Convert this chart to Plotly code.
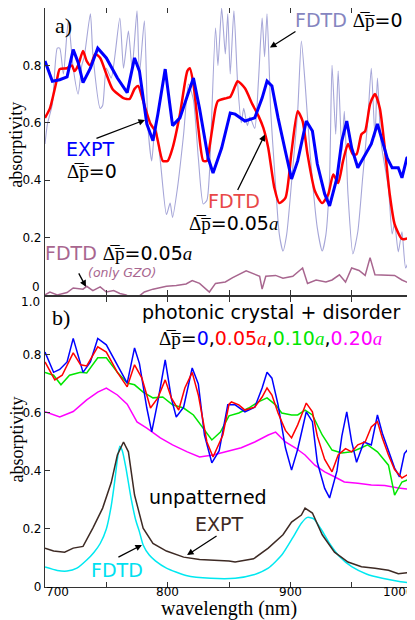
import plotly.graph_objects as go
from plotly.subplots import make_subplots

# ---- panel a ----
xa_expt = [700, 706, 712, 718, 723, 727, 731, 737, 743, 750, 759, 767, 773, 777, 783, 788, 792, 798, 804, 810,
           816, 821, 826, 833, 837, 844, 851, 855, 863, 871, 877, 881, 885, 890, 896, 901, 906, 913, 918, 922,
           928, 932, 938, 942, 946, 950, 955, 961, 966, 971, 975, 979, 983, 988, 991, 995, 1000]
ya_expt = [0.815, 0.745, 0.75, 0.76, 0.855, 0.81, 0.74, 0.79, 0.86, 0.826, 0.756, 0.705, 0.826, 0.78, 0.596, 0.537,
           0.63, 0.787, 0.59, 0.617, 0.693, 0.756, 0.65, 0.477, 0.425, 0.512, 0.634, 0.63, 0.606, 0.617, 0.686,
           0.745, 0.728, 0.617, 0.50, 0.404, 0.467, 0.606, 0.571, 0.456, 0.352, 0.31, 0.408, 0.537, 0.606, 0.512,
           0.443, 0.491, 0.526, 0.596, 0.537, 0.477, 0.443, 0.443, 0.408, 0.477, 0.49]

xa_fdtd05 = [700, 704, 710, 712, 718, 722, 724, 727, 731, 734, 737, 741, 745, 750, 755, 764, 769, 773, 776, 780,
             786, 790, 792, 796, 800, 804, 810, 816, 818, 821, 825, 829, 832, 834, 839, 841, 848, 851, 855, 857,
             863, 869, 874, 878, 882, 887, 891, 896, 901, 906, 910, 914, 920, 926, 931, 935, 939, 943, 947, 951,
             954, 958, 961, 965, 969, 973, 977, 981, 985, 991, 996, 1000]
ya_fdtd05 = [0.617, 0.65, 0.756, 0.787, 0.79, 0.80, 0.78, 0.80, 0.85, 0.815, 0.80, 0.84, 0.826, 0.77, 0.718, 0.686,
             0.683, 0.718, 0.728, 0.676, 0.596, 0.571, 0.537, 0.467, 0.467, 0.512, 0.63, 0.78, 0.79, 0.735, 0.582,
             0.467, 0.467, 0.512, 0.65, 0.676, 0.686, 0.69, 0.728, 0.745, 0.72, 0.665, 0.624, 0.582, 0.512, 0.373,
             0.32, 0.338, 0.50, 0.64, 0.606, 0.49, 0.362, 0.32, 0.352, 0.42, 0.39, 0.467, 0.526, 0.49, 0.49, 0.56,
             0.571, 0.665, 0.70, 0.65, 0.512, 0.352, 0.247, 0.195, 0.198, 0.223]

xa_fdtd0 = [700, 702, 706, 710, 712, 715, 719, 723, 727, 730, 732, 737, 739, 745, 747, 750, 754, 761, 764, 768,
            771, 775, 777, 781, 784, 787, 790, 794, 799, 802, 804, 808, 813, 817, 821, 825, 829, 832, 834, 839,
            841, 844, 847, 849, 851, 854, 857, 860, 862, 865, 867, 871, 874, 877, 879, 881, 884, 887, 891, 894,
            897, 902, 906, 909, 912, 916, 922, 926, 929, 932, 934, 937, 939, 942, 944, 947, 951, 955, 959, 963,
            966, 969, 971, 974, 980, 983, 985, 988, 991, 994, 997, 1000]
ya_fdtd0 = [0.526, 0.596, 0.665, 0.86, 0.86, 0.77, 0.955, 0.79, 0.70, 0.80, 0.83, 0.98, 0.84, 0.65, 0.66, 0.79,
            0.756, 0.965, 0.79, 0.92, 0.79, 0.99, 0.77, 0.955, 0.58, 0.467, 0.6, 0.467, 0.28, 0.32, 0.27, 0.373,
            0.56, 0.735, 0.68, 0.477, 0.317, 0.33, 0.42, 0.93, 0.8, 1.0, 0.84, 0.98, 0.77, 0.99, 0.74, 0.6, 0.65,
            0.59, 0.62, 0.58, 0.745, 0.965, 0.83, 0.98, 0.64, 0.443, 0.212, 0.153, 0.21, 0.443, 0.64, 0.885, 0.74,
            0.50, 0.233, 0.153, 0.21, 0.41, 0.80, 0.56, 0.78, 0.5, 0.64, 0.35, 0.143, 0.22, 0.41, 0.6, 0.79, 0.55,
            0.756, 0.53, 0.37, 0.212, 0.25, 0.15, 0.22, 0.094, 0.12, 0.094]

xa_gzo = [700, 704, 710, 718, 723, 731, 734, 739, 745, 750, 756, 761, 766, 770, 775, 781, 788, 799, 807, 815,
          820, 826, 834, 839, 847, 853, 864, 869, 875, 877, 880, 888, 894, 902, 910, 914, 921, 929, 934, 940,
          945, 950, 956, 961, 965, 969, 977, 985, 991, 998, 1000]
ya_gzo = [0.0, 0.01, 0.0, 0.008, 0.024, 0.02, 0.03, 0.015, 0.028, 0.01, 0.015, 0.005, 0.0, -0.01, -0.01, 0.01,
          0.02, 0.03, 0.033, 0.038, 0.05, 0.04, 0.01, 0.04, 0.045, 0.06, 0.084, 0.075, 0.065, 0.02, 0.065, 0.068,
          0.058, 0.065, 0.094, 0.04, 0.052, 0.045, 0.052, 0.07, 0.045, 0.094, 0.085, 0.068, 0.13, 0.07, 0.07,
          0.068, 0.052, 0.04, 0.035]

# ---- panel b ----
xb_0 = [700, 707, 712, 718, 723, 727, 731, 737, 743, 750, 759, 767, 773, 777, 783, 787, 792, 798, 803, 807, 813,
        820, 825, 830, 836, 842, 849, 855, 863, 871, 877, 881, 885, 890, 896, 901, 906, 913, 918, 922, 928, 932,
        938, 942, 946, 950, 954, 960, 966, 971, 975, 980, 985, 989, 993, 997, 1000]
yb_0 = [0.81, 0.74, 0.75, 0.776, 0.857, 0.80, 0.74, 0.776, 0.857, 0.835, 0.765, 0.703, 0.824, 0.77, 0.617, 0.535,
        0.64, 0.783, 0.65, 0.586, 0.62, 0.755, 0.70, 0.524, 0.428, 0.47, 0.628, 0.628, 0.604, 0.62, 0.686, 0.74,
        0.72, 0.628, 0.48, 0.403, 0.475, 0.604, 0.57, 0.43, 0.34, 0.307, 0.40, 0.52, 0.604, 0.5, 0.43, 0.5, 0.49,
        0.593, 0.53, 0.47, 0.41, 0.38, 0.46, 0.48, 0.42]

xb_05 = [700, 708, 714, 723, 729, 734, 743, 750, 759, 767, 773, 779, 786, 792, 798, 803, 809, 814, 820, 825, 832,
         837, 845, 850, 852, 858, 863, 871, 877, 881, 885, 890, 896, 901, 906, 913, 918, 922, 928, 934, 939, 945,
         950, 955, 961, 966, 971, 975, 980, 985, 991, 995, 1000]
yb_05 = [0.776, 0.714, 0.73, 0.807, 0.766, 0.762, 0.828, 0.81, 0.74, 0.69, 0.766, 0.72, 0.617, 0.652, 0.714,
         0.652, 0.61, 0.686, 0.74, 0.662, 0.50, 0.448, 0.524, 0.63, 0.638, 0.628, 0.61, 0.62, 0.655, 0.686, 0.662,
         0.6, 0.54, 0.514, 0.559, 0.634, 0.604, 0.52, 0.44, 0.397, 0.455, 0.477, 0.466, 0.49, 0.5, 0.552, 0.57,
         0.514, 0.455, 0.405, 0.376, 0.386, 0.37]

xb_10 = [700, 707, 713, 720, 729, 734, 743, 750, 759, 767, 773, 780, 788, 796, 804, 813, 821, 829, 836, 843, 850,
         858, 866, 874, 881, 888, 893, 901, 906, 912, 918, 926, 934, 942, 950, 958, 963, 971, 980, 985, 991, 996,
         1000]
yb_10 = [0.74, 0.73, 0.697, 0.73, 0.74, 0.738, 0.79, 0.79, 0.74, 0.703, 0.697, 0.672, 0.652, 0.655, 0.628, 0.617,
         0.593, 0.548, 0.507, 0.534, 0.59, 0.6, 0.617, 0.638, 0.652, 0.628, 0.6, 0.593, 0.593, 0.61, 0.593, 0.524,
         0.472, 0.462, 0.466, 0.48, 0.49, 0.466, 0.42, 0.317, 0.362, 0.37, 0.352]

xb_20 = [700, 712, 723, 734, 743, 750, 759, 767, 775, 783, 794, 804, 816, 826, 837, 848, 860, 871, 882, 888, 896,
         904, 912, 920, 928, 936, 944, 955, 966, 977, 988, 1000]
yb_20 = [0.604, 0.586, 0.605, 0.645, 0.672, 0.686, 0.662, 0.63, 0.569, 0.548, 0.514, 0.49, 0.466, 0.448, 0.455,
         0.466, 0.48, 0.5, 0.524, 0.534, 0.5, 0.48, 0.455, 0.42, 0.397, 0.38, 0.362, 0.358, 0.352, 0.35, 0.341,
         0.335]

xb_flat_expt = [700, 707, 716, 723, 731, 739, 747, 754, 759, 764, 768, 773, 780, 788, 799, 813, 826, 840, 850, 855,
                870, 882, 894, 901, 909, 912, 918, 926, 936, 947, 958, 969, 980, 988, 998, 1000]
yb_flat_expt = [0.134, 0.124, 0.12, 0.134, 0.14, 0.203, 0.272, 0.36, 0.455, 0.50, 0.466, 0.317, 0.203, 0.15,
                0.124, 0.103, 0.095, 0.092, 0.09, 0.086, 0.097, 0.134, 0.18, 0.224, 0.248, 0.272, 0.255, 0.18, 0.12,
                0.086, 0.07, 0.065, 0.058, 0.046, 0.05, 0.04]

xb_flat_fdtd = [700, 710, 718, 726, 734, 740, 745, 750, 754, 757, 759, 761, 763, 766, 770, 774, 777, 780, 785, 790,
                799, 815, 835, 855, 870, 882, 893, 902, 909, 914, 919, 925, 932, 940, 950, 962, 975, 990, 1000]
yb_flat_fdtd = [0.069, 0.057, 0.055, 0.065, 0.093, 0.12, 0.15, 0.2, 0.28, 0.37, 0.44, 0.485, 0.47, 0.41, 0.31,
                0.23, 0.19, 0.145, 0.11, 0.09, 0.065, 0.04, 0.03, 0.03, 0.042, 0.065, 0.11, 0.17, 0.22, 0.24, 0.235,
                0.2, 0.15, 0.105, 0.07, 0.045, 0.03, 0.018, 0.013]

x_ticks = [700, 750, 800, 850, 900, 950, 1000]
x_labels = [700, 800, 900, 1000]
y_ticks = [0, 0.2, 0.4, 0.6, 0.8, 1.0]

SERIF = "Liberation Serif"
SANS = "DejaVu Sans"


def dp(rest, color="black"):
    return (f'<span style="font-family:{SERIF};color:black">Δ\u0305p\u0305</span>'
            f'<span style="color:{color}">{rest}</span>')


def ital_a(color):
    return f'<span style="font-family:{SERIF};color:{color}"><i>a</i></span>'


fig = make_subplots(rows=2, cols=1, shared_xaxes=True, vertical_spacing=0.004)

fig.add_trace(go.Scatter(x=xa_fdtd0, y=ya_fdtd0, mode="lines",
                         line={"color": "#a6a6d8", "width": 1.1, "shape": "spline", "smoothing": 0.6}),
              row=1, col=1)
fig.add_trace(go.Scatter(x=xa_gzo, y=ya_gzo, mode="lines",
                         line={"color": "#a8668f", "width": 1.5}), row=1, col=1)
fig.add_trace(go.Scatter(x=xa_fdtd05, y=ya_fdtd05, mode="lines",
                         line={"color": "#ff0000", "width": 2.5, "shape": "spline", "smoothing": 0.6}),
              row=1, col=1)
fig.add_trace(go.Scatter(x=xa_expt, y=ya_expt, mode="lines",
                         line={"color": "#0000ff", "width": 3}), row=1, col=1)

fig.add_trace(go.Scatter(x=xb_20, y=yb_20, mode="lines", line={"color": "#ff00ff", "width": 1.5}), row=2, col=1)
fig.add_trace(go.Scatter(x=xb_10, y=yb_10, mode="lines", line={"color": "#00e600", "width": 1.5}), row=2, col=1)
fig.add_trace(go.Scatter(x=xb_0, y=yb_0, mode="lines", line={"color": "#0000ff", "width": 1.5}), row=2, col=1)
fig.add_trace(go.Scatter(x=xb_05, y=yb_05, mode="lines", line={"color": "#ff0000", "width": 1.5}), row=2, col=1)
fig.add_trace(go.Scatter(x=xb_flat_fdtd, y=yb_flat_fdtd, mode="lines",
                         line={"color": "#00e8f0", "width": 1.5, "shape": "spline", "smoothing": 0.6}),
              row=2, col=1)
fig.add_trace(go.Scatter(x=xb_flat_expt, y=yb_flat_expt, mode="lines",
                         line={"color": "#3d2a24", "width": 1.5}), row=2, col=1)

axis_common = dict(showline=True, linecolor="#333", linewidth=1.2, mirror="ticks", ticks="inside",
                   ticklen=5, tickcolor="#333", showgrid=False, zeroline=False, automargin=False,
                   tickfont={"family": SANS, "size": 12, "color": "black"})
fig.update_xaxes(range=[700, 1000], tickvals=x_ticks, showticklabels=False, **axis_common)
fig.update_yaxes(range=[0, 1], tickvals=y_ticks, **axis_common)
# the "0" of panel a and the "1.0" of panel b are nudged apart below, as in the original
fig.update_yaxes(ticktext=["", "0.2", "0.4", "0.6", "0.8", "1.0"], domain=[0.5045, 1], row=1, col=1)
fig.update_yaxes(ticktext=["0", "0.2", "0.4", "0.6", "0.8", ""], domain=[0, 0.501], row=2, col=1)

ann = []


def label(text, x, y, size=19, row=1, color="black", family=SANS):
    ref = "" if row == 1 else "2"
    ann.append(dict(text=text, x=x, y=y, xref=f"x{ref}", yref=f"y{ref}", showarrow=False,
                    font={"family": family, "size": size, "color": color}))


def arrow(x, y, ax, ay, row=1):
    ref = "" if row == 1 else "2"
    ann.append(dict(text="", x=x, y=y, xref=f"x{ref}", yref=f"y{ref}", showarrow=True, ax=ax, ay=ay,
                    arrowhead=2, arrowsize=1, arrowwidth=1.3, arrowcolor="black"))


tick_font = {"family": SANS, "size": 12, "color": "black"}
ann.append(dict(text="0", x=0, y=0, xref="paper", yref="y", xanchor="right", yanchor="middle",
                xshift=-3, yshift=8, showarrow=False, font=tick_font))
ann.append(dict(text="1.0", x=0, y=1, xref="paper", yref="y2", xanchor="right", yanchor="middle",
                xshift=-3, yshift=-5, showarrow=False, font=tick_font))

# x tick labels; the end ones sit inside the frame as in the original
for v in x_labels:
    shift = 12 if v == x_labels[0] else (-15 if v == x_labels[-1] else 0)
    ann.append(dict(text=str(v), x=v, y=0, xref="x2", yref="paper", xanchor="center", yanchor="top",
                    xshift=shift, yshift=4, showarrow=False, font=tick_font))

# axis titles
for yc in (0.763, 0.254):
    ann.append(dict(text="absorptivity", x=-0.0774, y=yc, xref="paper", yref="paper", showarrow=False,
                    textangle=-90, xanchor="center", yanchor="middle", borderpad=0,
                    font={"family": SERIF, "size": 18, "color": "black"}))
ann.append(dict(text="wavelength (nm)", x=0.5, y=-0.037, xref="paper", yref="paper", showarrow=False,
                xanchor="center", yanchor="middle", font={"family": SERIF, "size": 20, "color": "black"}))

# panel a labels
label("a)", 714.7, 0.94, size=22, family=SERIF)
label(f'<span style="color:#8585c0">FDTD</span> ' + dp("=0"), 948, 0.957)
arrow(883.4, 0.862, 27, -17)
label("EXPT", 736.7, 0.51, color="#0000ff")
label(dp("=0"), 738.3, 0.431)
arrow(781.5, 0.61, -50, 19)
label("FDTD", 854, 0.328, color="#e84848")
label(dp("=0.05") + ital_a("black"), 854, 0.252)
arrow(879.3, 0.559, -28, 57)
label(f'<span style="color:#a8668f">FDTD</span> ' + dp("=0.05") + ital_a("black"), 760.3, 0.145)
label("<i>(only GZO)</i>", 762.8, 0.079, size=12.5, color="#a8668f")
arrow(733.4, 0.028, -8, -15)

# panel b labels
label("b)", 713, 0.928, size=22, family=SERIF, row=2)
label("photonic crystal + disorder", 884.2, 0.948, row=2)
label(dp("=") + '<span style="color:#0000ff">0</span>,'
      + '<span style="color:#ff0000">0.05</span>' + ital_a("#ff0000") + ","
      + '<span style="color:#00e600">0.10</span>' + ital_a("#00e600") + ","
      + '<span style="color:#ff00ff">0.20</span>' + ital_a("#ff00ff"),
      884.2, 0.859, row=2)
label("unpatterned", 832.9, 0.31, row=2)
label("EXPT", 841.8, 0.217, color="#3d2a24", row=2)
arrow(815.8, 0.11, 31, -20, row=2)
label("FDTD", 758.7, 0.059, color="#00e0f0", row=2)
arrow(779, 0.145, -25, 13, row=2)

# the page body keeps its default 8px margin, so the figure is 8px smaller than the window
fig.update_layout(
    width=407, height=612,
    margin={"l": 37, "r": 2, "t": 0, "b": 33},
    plot_bgcolor="white", paper_bgcolor="white",
    showlegend=False,
    annotations=ann,
    font={"family": SANS, "color": "black"},
)

fig.write_html("out.html")
